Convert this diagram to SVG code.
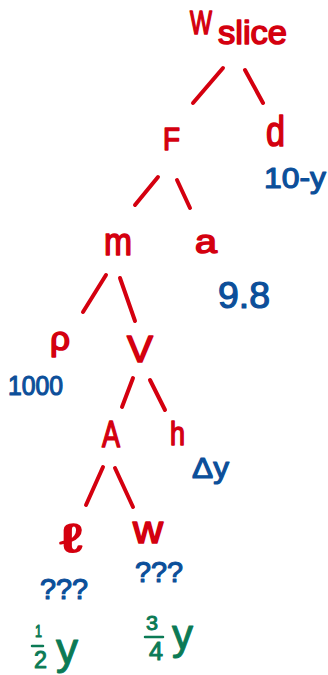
<svg xmlns="http://www.w3.org/2000/svg" width="328" height="675" viewBox="0 0 328 675">
<style>
text{font-family:"Liberation Sans","DejaVu Sans",sans-serif;stroke-linejoin:round}
.r{fill:#d4000f;stroke:#d4000f;stroke-width:1.6}
.b{fill:#0c4f9a;stroke:#0c4f9a;stroke-width:1.2}
.g{fill:#0b7a55;stroke:#0b7a55;stroke-width:1}
.e{stroke:#d4000f;stroke-width:4;stroke-linecap:round;fill:none}
.fb{stroke:#0b7a55;stroke-width:2.5;stroke-linecap:round}
</style>
<rect width="328" height="675" fill="#fff"/>
<g id="connectors">
<line class="e" x1="223" y1="68" x2="193" y2="103"/>
<line class="e" x1="245" y1="70" x2="263" y2="103"/>
<line class="e" x1="158" y1="177" x2="135" y2="205"/>
<line class="e" x1="177" y1="180" x2="190" y2="208"/>
<line class="e" x1="106" y1="275" x2="83" y2="312"/>
<line class="e" x1="120" y1="278" x2="135" y2="321"/>
<line class="e" x1="133" y1="378" x2="122" y2="407"/>
<line class="e" x1="150" y1="380" x2="165" y2="410"/>
<line class="e" x1="103" y1="467" x2="86" y2="505"/>
<line class="e" x1="115" y1="468" x2="133" y2="507"/>
</g>
<g id="wslice">
<text class="r" x="190" y="34" font-size="33" textLength="22" lengthAdjust="spacingAndGlyphs">W</text>
<text class="r" x="218" y="44" font-size="34" textLength="69" lengthAdjust="spacingAndGlyphs">slice</text>
</g>
<g id="F"><text class="r" x="163" y="150" font-size="32" textLength="17" lengthAdjust="spacingAndGlyphs">F</text></g>
<g id="d">
<text class="r" x="266" y="146" font-size="42" textLength="19" lengthAdjust="spacingAndGlyphs">d</text>
<text class="b" x="264" y="188" font-size="29" textLength="62" lengthAdjust="spacingAndGlyphs">10-y</text>
</g>
<g id="m"><text class="r" x="104" y="255" font-size="38" textLength="28" lengthAdjust="spacingAndGlyphs">m</text></g>
<g id="a">
<text class="r" x="195" y="253" font-size="34" textLength="22" lengthAdjust="spacingAndGlyphs">a</text>
<text class="b" x="218" y="308" font-size="36" textLength="52" lengthAdjust="spacingAndGlyphs">9.8</text>
</g>
<g id="rho">
<text class="r" x="50" y="350" font-size="34" textLength="20" lengthAdjust="spacingAndGlyphs">ρ</text>
<text class="b" x="8" y="395" font-size="28" textLength="55" lengthAdjust="spacingAndGlyphs">1000</text>
</g>
<g id="V"><text class="r" x="127" y="362" font-size="37" textLength="26" lengthAdjust="spacingAndGlyphs">V</text></g>
<g id="A"><text class="r" x="102" y="447" font-size="37" textLength="18" lengthAdjust="spacingAndGlyphs">A</text></g>
<g id="h">
<text class="r" x="170" y="445" font-size="34" textLength="15" lengthAdjust="spacingAndGlyphs">h</text>
<text class="b" x="192" y="478" font-size="30" textLength="37" lengthAdjust="spacingAndGlyphs">Δy</text>
</g>
<g id="l">
<text class="r" x="60" y="552" font-size="40" textLength="22" lengthAdjust="spacingAndGlyphs">ℓ</text>
<text class="b" x="40" y="599" font-size="30" textLength="48" lengthAdjust="spacingAndGlyphs">???</text>
<text class="g" x="35" y="637" font-size="17" textLength="7" lengthAdjust="spacingAndGlyphs">1</text>
<line class="fb" x1="32" y1="646" x2="43" y2="646"/>
<text class="g" x="34" y="668" font-size="24" textLength="13" lengthAdjust="spacingAndGlyphs">2</text>
<text class="g" x="56" y="664" font-size="44" textLength="22" lengthAdjust="spacingAndGlyphs">y</text>
</g>
<g id="w">
<text class="r" x="133" y="543" font-size="38" textLength="30" lengthAdjust="spacingAndGlyphs">w</text>
<text class="b" x="135" y="582" font-size="30" textLength="48" lengthAdjust="spacingAndGlyphs">???</text>
<text class="g" x="146" y="630" font-size="21" textLength="12" lengthAdjust="spacingAndGlyphs">3</text>
<line class="fb" x1="145" y1="637" x2="163" y2="637"/>
<text class="g" x="149" y="660" font-size="25" textLength="14" lengthAdjust="spacingAndGlyphs">4</text>
<text class="g" x="172" y="649" font-size="42" textLength="21" lengthAdjust="spacingAndGlyphs">y</text>
</g>
</svg>
